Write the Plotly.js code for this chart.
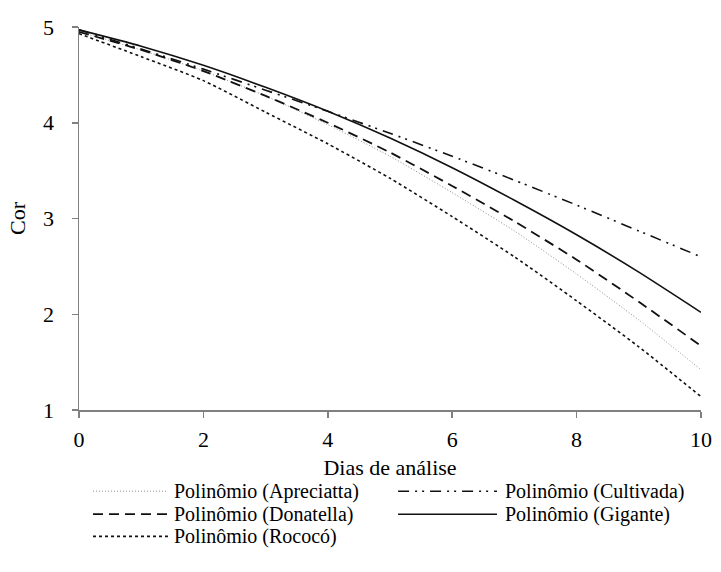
<!DOCTYPE html>
<html>
<head>
<meta charset="utf-8">
<script src="https://cdn.plot.ly/plotly-3.0.1.min.js"></script>
<style>
html,body{margin:0;padding:0;background:#fff;}
#chart{width:721px;height:572px;}
</style>
</head>
<body>
<div id="chart"></div>
<script>
// Data (Dias de análise vs Cor)
const days = [0, 1, 2, 3, 4, 5, 6, 7, 8, 9, 10];
const seriesNames = ["Polinômio (Apreciatta)", "Polinômio (Cultivada)", "Polinômio (Donatella)", "Polinômio (Gigante)", "Polinômio (Rococó)"];
const apreciatta = [4.95, 4.76, 4.54, 4.28, 3.98, 3.65, 3.27, 2.87, 2.42, 1.94, 1.42];
const cultivada  = [4.97, 4.77, 4.56, 4.34, 4.12, 3.89, 3.65, 3.40, 3.14, 2.87, 2.60];
const donatella  = [4.95, 4.76, 4.54, 4.28, 4.00, 3.69, 3.34, 2.97, 2.57, 2.13, 1.67];
const gigante    = [4.97, 4.80, 4.60, 4.37, 4.12, 3.84, 3.53, 3.19, 2.83, 2.44, 2.02];
const rococo     = [4.93, 4.69, 4.44, 4.11, 3.78, 3.42, 3.02, 2.60, 2.14, 1.66, 1.14];
const xTicks = [0, 2, 4, 6, 8, 10];
const yTicks = [1, 2, 3, 4, 5];

const values = [apreciatta, cultivada, donatella, gigante, rococo];
const styles = [
  {color: "#8a8a8a", width: 1, dash: "1px,2px"},
  {color: "#111", width: 1.6, dash: "11px,6px,2px,5px,2px,6px"},
  {color: "#111", width: 1.8, dash: "10px,6px"},
  {color: "#111", width: 1.6, dash: "solid"},
  {color: "#111", width: 1.6, dash: "3px,3px"}
];

const traces = values.map((v, i) => ({
  x: days, y: v, type: "scatter", mode: "lines", name: seriesNames[i],
  line: Object.assign({shape: "spline", smoothing: 0.6}, styles[i]),
  showlegend: false, hoverinfo: "skip"
}));

const fam = "Liberation Serif, Times New Roman, serif";
const mkFont = (s) => ({family: fam, size: s, color: "#000"});

// custom legend (paper coordinates)
const legendPos = [
  {x0: 0.0225, x1: 0.143, tx: 0.150, y: -0.212},
  {x0: 0.513, x1: 0.672, tx: 0.682, y: -0.212},
  {x0: 0.0225, x1: 0.143, tx: 0.150, y: -0.272},
  {x0: 0.513, x1: 0.672, tx: 0.682, y: -0.272},
  {x0: 0.0225, x1: 0.143, tx: 0.150, y: -0.330}
];
const shapes = legendPos.map((p, i) => ({
  type: "line", xref: "paper", yref: "paper", x0: p.x0, x1: p.x1, y0: p.y, y1: p.y,
  line: {color: styles[i].color, width: styles[i].width, dash: styles[i].dash}
}));
const annotations = legendPos.map((p, i) => ({
  xref: "paper", yref: "paper", x: p.tx, y: p.y, xanchor: "left", yanchor: "middle",
  text: seriesNames[i], showarrow: false, font: mkFont(20)
}));

const layout = {
  width: 721, height: 572,
  margin: {l: 79, r: 20, t: 27, b: 162},
  paper_bgcolor: "#fff", plot_bgcolor: "#fff",
  font: mkFont(22),
  showlegend: false,
  xaxis: {
    range: [0, 10], tickvals: xTicks, ticktext: xTicks.map(String),
    showgrid: false, zeroline: false, showline: true, linecolor: "#808080", linewidth: 1.5,
    ticks: "outside", ticklen: 6, tickcolor: "#808080", tickwidth: 1.5,
    tickfont: mkFont(22), ticklabelstandoff: 3,
    title: {text: "Dias de análise", font: mkFont(22), standoff: 8},
    automargin: false
  },
  yaxis: {
    range: [1, 5], tickvals: yTicks, ticktext: yTicks.map(String),
    showgrid: false, zeroline: false, showline: true, linecolor: "#808080", linewidth: 1.5,
    ticks: "outside", ticklen: 6, tickcolor: "#808080", tickwidth: 1.5,
    tickfont: mkFont(22), ticklabelstandoff: 13,
    title: {text: "Cor", font: mkFont(22), standoff: 11},
    automargin: false
  },
  shapes: shapes,
  annotations: annotations
};

Plotly.newPlot("chart", traces, layout, {displayModeBar: false, staticPlot: true});
</script>
</body>
</html>
